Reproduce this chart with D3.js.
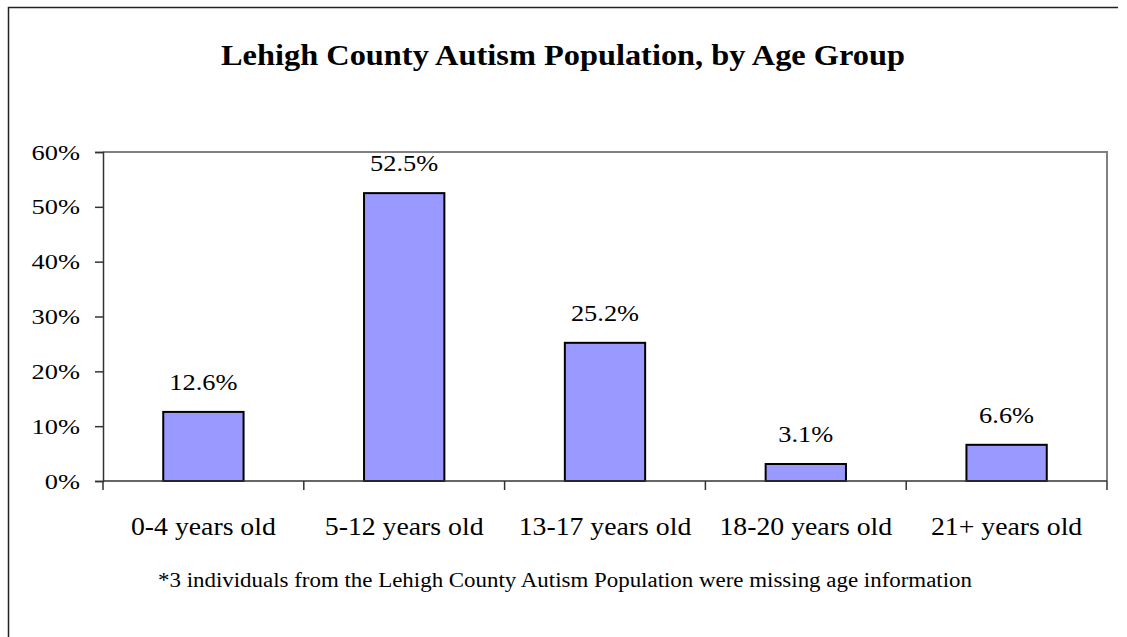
<!DOCTYPE html>
<html>
<head>
<meta charset="utf-8">
<script src="https://cdn.jsdelivr.net/npm/d3@7"></script>
<style>
  html, body { margin: 0; padding: 0; background: #fff; }
  svg { display: block; }
  text { font-family: "Liberation Serif", "DejaVu Serif", serif; fill: #000; }
</style>
</head>
<body>
<svg id="chart" width="1127" height="637"></svg>
<script>
const categories = ["0-4 years old", "5-12 years old", "13-17 years old", "18-20 years old", "21+ years old"];
const values = [12.6, 52.5, 25.2, 3.1, 6.6];
const valueLabels = ["12.6%", "52.5%", "25.2%", "3.1%", "6.6%"];
const yTicks = [0, 10, 20, 30, 40, 50, 60];
const titleText = "Lehigh County Autism Population, by Age Group";
const footnoteText = "*3 individuals from the Lehigh County Autism Population were missing age information";

const svg = d3.select("#chart");
const plot = { left: 103, right: 1107, top: 152, bottom: 481 };

// widen glyphs slightly to approximate the wider original serif face
function widen(sel, k) {
  sel.each(function () {
    const w = this.getComputedTextLength();
    d3.select(this).attr("textLength", w * k).attr("lengthAdjust", "spacingAndGlyphs");
  });
}

// outer frame (left and top edges visible)
svg.append("path")
  .attr("d", "M8.5,640V7.5H1118")
  .attr("fill", "none").attr("stroke", "#222").attr("stroke-width", 1.5);

// title
svg.append("text")
  .attr("x", 563).attr("y", 65)
  .attr("text-anchor", "middle")
  .attr("font-size", 29).attr("font-weight", "bold")
  .attr("textLength", 684).attr("lengthAdjust", "spacingAndGlyphs")
  .text(titleText);

const x = d3.scaleBand().domain(categories)
  .range([plot.left, plot.right]).paddingInner(0.6).paddingOuter(0.3);
const xStep = d3.scaleBand().domain(categories).range([plot.left, plot.right]).padding(0);
const y = d3.scaleLinear().domain([0, 60]).range([plot.bottom, plot.top]);

// plot area border (top/right gray)
svg.append("path")
  .attr("d", `M${plot.left},${plot.top}H${plot.right}V${plot.bottom}`)
  .attr("fill", "none").attr("stroke", "#808080").attr("stroke-width", 2);

// bars
svg.selectAll("rect.bar").data(values).enter().append("rect")
  .attr("class", "bar")
  .attr("x", (d, i) => x(categories[i]))
  .attr("width", x.bandwidth())
  .attr("y", d => y(d))
  .attr("height", d => y(0) - y(d))
  .attr("fill", "#9999FF").attr("stroke", "#000").attr("stroke-width", 2);

// value labels
svg.selectAll("text.val").data(values).enter().append("text")
  .attr("class", "val")
  .attr("x", (d, i) => x(categories[i]) + x.bandwidth() / 2)
  .attr("y", d => y(d) - 22)
  .attr("text-anchor", "middle")
  .attr("font-size", 24)
  .text((d, i) => valueLabels[i])
  .call(widen, 1.1);

// y axis
const yAxis = d3.axisLeft(y).tickValues(yTicks).tickFormat(d => d + "%").tickSize(8).tickPadding(15);
const gy = svg.append("g").attr("transform", `translate(${plot.left},0)`).call(yAxis);
gy.select(".domain").attr("stroke", "#333").attr("stroke-width", 1.5);
gy.selectAll(".tick line").attr("stroke", "#333").attr("stroke-width", 1.5);
gy.selectAll(".tick text").attr("font-size", 22).attr("font-family", "Liberation Serif, serif").attr("fill", "#000")
  .call(widen, 1.2);

// x axis: ticks at category boundaries
const boundaries = categories.map(c => xStep(c)).concat([plot.right]);
svg.append("line")
  .attr("x1", plot.left).attr("x2", plot.right)
  .attr("y1", plot.bottom).attr("y2", plot.bottom)
  .attr("stroke", "#333").attr("stroke-width", 1.5);
svg.selectAll("line.xt").data(boundaries).enter().append("line")
  .attr("class", "xt")
  .attr("x1", d => d).attr("x2", d => d)
  .attr("y1", plot.bottom).attr("y2", plot.bottom + 9)
  .attr("stroke", "#333").attr("stroke-width", 1.5);
svg.selectAll("text.cat").data(categories).enter().append("text")
  .attr("class", "cat")
  .attr("x", d => xStep(d) + xStep.bandwidth() / 2)
  .attr("y", 535)
  .attr("text-anchor", "middle")
  .attr("font-size", 25)
  .text(d => d)
  .call(widen, 1.11);

// footnote
svg.append("text")
  .attr("x", 565).attr("y", 587)
  .attr("text-anchor", "middle")
  .attr("font-size", 20)
  .attr("textLength", 814).attr("lengthAdjust", "spacingAndGlyphs")
  .text(footnoteText);
</script>
</body>
</html>
